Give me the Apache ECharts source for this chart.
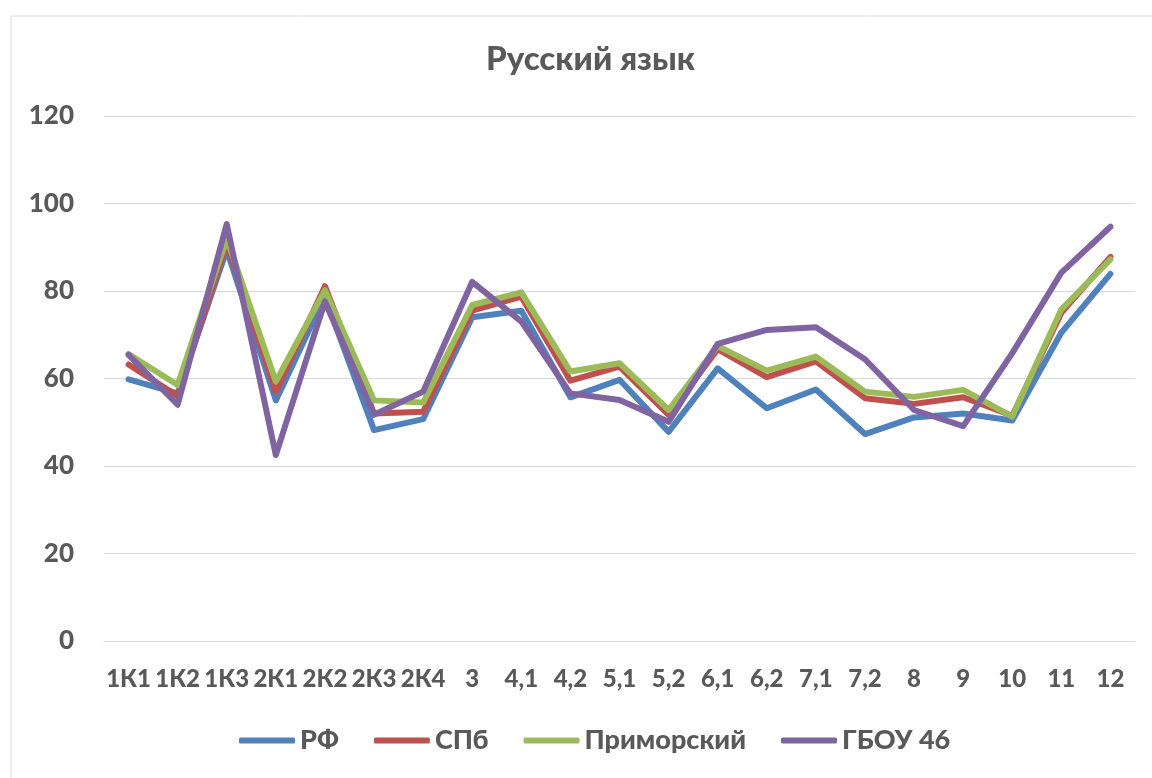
<!DOCTYPE html>
<html>
<head>
<meta charset="utf-8">
<script src="https://cdn.jsdelivr.net/npm/echarts@6/dist/echarts.min.js"></script>
<style>
html,body{margin:0;padding:0;background:#fff;}
#chart{width:1152px;height:778px;}
</style>
</head>
<body>
<div id="chart"></div>
<script>
const categories = ['1К1','1К2','1К3','2К1','2К2','2К3','2К4','3','4,1','4,2','5,1','5,2','6,1','6,2','7,1','7,2','8','9','10','11','12'];
const rf       = [59.8, 56.6, 89.4, 55.0, 78.7, 48.2, 50.7, 74.0, 75.5, 55.7, 59.7, 47.8, 62.3, 53.2, 57.5, 47.3, 51.1, 52.0, 50.4, 70.5, 83.9];
const spb      = [63.2, 56.0, 90.9, 57.0, 81.1, 52.0, 52.4, 75.5, 78.7, 59.5, 62.7, 51.7, 66.7, 60.3, 63.9, 55.5, 54.2, 55.7, 51.5, 75.0, 87.8];
const primor   = [65.6, 58.5, 92.0, 59.3, 80.2, 55.0, 54.5, 76.8, 79.7, 61.6, 63.5, 52.8, 67.4, 61.8, 65.0, 57.0, 55.8, 57.4, 51.3, 75.8, 87.2];
const gbou     = [65.4, 54.0, 95.3, 42.5, 77.6, 51.7, 57.0, 82.1, 73.0, 56.6, 55.1, 50.1, 67.9, 71.1, 71.7, 64.4, 52.8, 49.1, 65.8, 84.2, 94.7];
const seriesNames = ['РФ','СПб','Приморский','ГБОУ 46'];
const yTicks = [0, 20, 40, 60, 80, 100, 120];

const colors = ['#4F81BD','#C0504D','#9BBB59','#8064A2'];
const txt = '#595959';
const font = 'Lato';
const chart = echarts.init(document.getElementById('chart'));
const dataSets = [rf, spb, primor, gbou];
chart.setOption({
  animation: false,
  color: colors,
  graphic: [{
    type: 'rect', left: 8.5, top: 13.5,
    shape: {width: 1200, height: 800},
    style: {fill: 'none', stroke: '#d9d9d9', lineWidth: 1},
    silent: true, z: -1
  }],
  title: {
    text: 'Русский язык', left: 481, top: 38,
    textStyle: {color: txt, fontFamily: font, fontWeight: 900, fontSize: 33}
  },
  grid: {left: 104, right: 17, top: 116, bottom: 137, containLabel: false},
  legend: {
    bottom: 19, left: 234,
    itemWidth: 56, itemHeight: 6, itemGap: 35,
    icon: 'roundRect',
    textStyle: {color: txt, fontFamily: font, fontWeight: 900, fontSize: 27, padding: [0,0,0,0]},
    data: seriesNames
  },
  xAxis: {
    type: 'category', data: categories, boundaryGap: true,
    axisLine: {show: true, lineStyle: {color: '#d9d9d9', width: 1}},
    axisTick: {show: false},
    axisLabel: {color: txt, fontFamily: font, fontWeight: 900, fontSize: 24, margin: 26, interval: 0}
  },
  yAxis: {
    type: 'value', min: yTicks[0], max: yTicks[yTicks.length-1], interval: 20,
    axisLine: {show: false}, axisTick: {show: false},
    axisLabel: {color: txt, fontFamily: font, fontWeight: 900, fontSize: 26, margin: 30},
    splitLine: {lineStyle: {color: '#d9d9d9', width: 1}}
  },
  series: seriesNames.map((n, i) => ({
    name: n, type: 'line', data: dataSets[i],
    showSymbol: false, symbol: 'none',
    lineStyle: {width: 6, color: colors[i], cap: 'round', join: 'round'},
    itemStyle: {color: colors[i]}
  }))
});
</script>
</body>
</html>
